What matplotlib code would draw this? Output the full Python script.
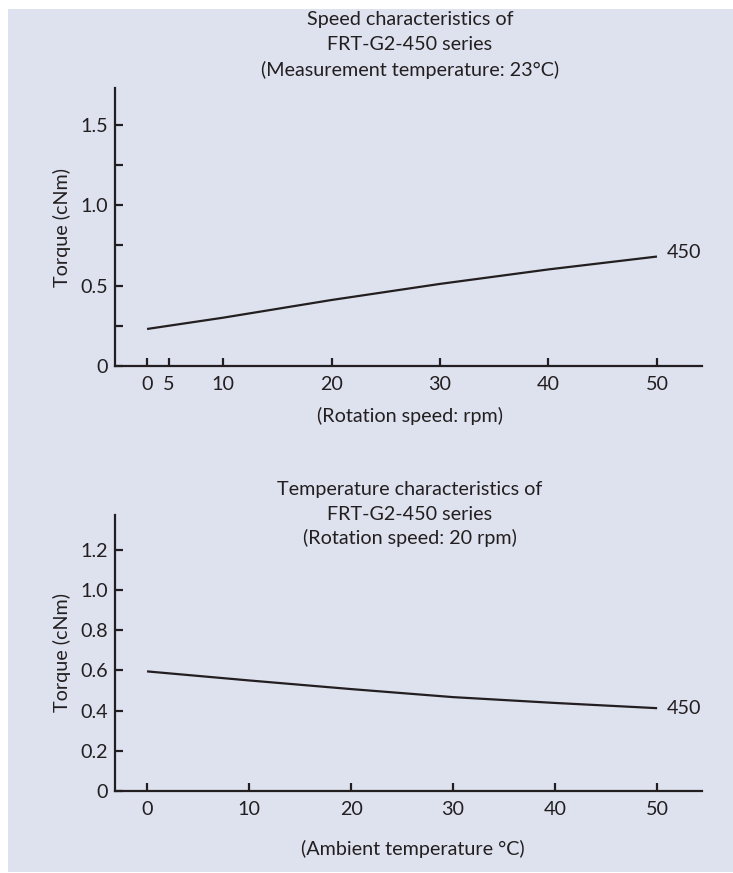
import matplotlib
matplotlib.use("Agg")
import matplotlib.pyplot as plt
from matplotlib.patches import Rectangle
import numpy as np

# speed characteristics (top)
speed_rpm = [0, 5, 10, 20, 30, 40, 50]
speed_torque = [0.23, 0.25, 0.30, 0.41, 0.51, 0.60, 0.68]
speed_xticks = [0, 5, 10, 20, 30, 40, 50]
speed_yticks = [0, 0.5, 1.0, 1.5]
speed_ylabels = ["0", "0.5", "1.0", "1.5"]
speed_yminor = [0.25, 0.75, 1.25]
speed_title = ["Speed characteristics of", "FRT-G2-450 series",
               "(Measurement temperature: 23°C)"]

# temperature characteristics (bottom)
temp_c = [0, 10, 20, 30, 40, 50]
temp_torque = [0.595, 0.55, 0.507, 0.467, 0.438, 0.412]
temp_xticks = [0, 10, 20, 30, 40, 50]
temp_yticks = [0, 0.2, 0.4, 0.6, 0.8, 1.0, 1.2]
temp_ylabels = ["0", "0.2", "0.4", "0.6", "0.8", "1.0", "1.2"]
temp_title = ["Temperature characteristics of", "FRT-G2-450 series",
              "(Rotation speed: 20 rpm)"]

series_name = "450"

plt.rcParams['font.family'] = ['Lato', 'DejaVu Sans']
ink = '#231f20'
bg = '#dee2ef'
fs = 14.2

W, H = 733, 873
fig = plt.figure(figsize=(W / 100, H / 100), dpi=100, facecolor='white')
fig.patches.append(Rectangle((8 / W, 1 / H), 1 - 8 / W, (872 - 9) / H,
                             transform=fig.transFigure, facecolor=bg,
                             edgecolor='none', zorder=-10))


def px_axes(left, top, right, bottom):
    return fig.add_axes([left / W, 1 - bottom / H, (right - left) / W, (bottom - top) / H])


def px_text(x, y, s):
    fig.text(x / W, 1 - y / H, s, ha='center', va='center', fontsize=fs, color=ink)


def style(ax):
    ax.set_facecolor('none')
    for s in ['top', 'right']:
        ax.spines[s].set_visible(False)
    for s in ['left', 'bottom']:
        ax.spines[s].set_linewidth(1.6)
        ax.spines[s].set_color(ink)
    ax.tick_params(which='both', direction='in', length=6, width=1.6, color=ink,
                   labelsize=fs, labelcolor=ink)
    ax.tick_params(axis='y', pad=5)
    ax.tick_params(axis='x', pad=7)


# top: compressed 0-5 segment
def fwd(x):
    x = np.asarray(x, dtype=float)
    return np.where(x < 5, 5 + (x - 5) * 0.4, x)


def inv(u):
    u = np.asarray(u, dtype=float)
    return np.where(u < 5, 5 + (u - 5) / 0.4, u)


ax1 = px_axes(115, 88, 702, 366)
ax1.set_xscale('function', functions=(fwd, inv))
ax1.plot(speed_rpm, speed_torque, color=ink, lw=1.6, solid_capstyle='butt')
ax1.set_xlim(-7.39, 54.15)
ax1.set_ylim(0, 1.727)
ax1.set_xticks(speed_xticks)
ax1.set_xticklabels([str(t) for t in speed_xticks])
ax1.set_yticks(speed_yticks)
ax1.set_yticklabels(speed_ylabels)
ax1.set_yticks(speed_yminor, minor=True)
ax1.xaxis.set_minor_locator(matplotlib.ticker.NullLocator())
style(ax1)
ax1.set_ylabel("Torque (cNm)", fontsize=fs, color=ink, labelpad=7)
ax1.set_xlabel("(Rotation speed: rpm)", fontsize=fs, color=ink)
ax1.xaxis.set_label_coords(0.503, -(407 - 366) / 278)
ax1.annotate(series_name, xy=(speed_rpm[-1], speed_torque[-1]), xytext=(7, 3),
             textcoords='offset points', va='center', ha='left', fontsize=fs, color=ink)
for yy, line in zip([20, 45, 70], speed_title):
    px_text(410, yy, line)

ax2 = px_axes(115, 515, 702, 791)
ax2.plot(temp_c, temp_torque, color=ink, lw=1.6, solid_capstyle='butt')
ax2.set_xlim(-3.14, 54.4)
ax2.set_ylim(0, 1.373)
ax2.set_xticks(temp_xticks)
ax2.set_xticklabels([str(t) for t in temp_xticks])
ax2.set_yticks(temp_yticks)
ax2.set_yticklabels(temp_ylabels)
style(ax2)
ax2.set_ylabel("Torque (cNm)", fontsize=fs, color=ink, labelpad=7)
ax2.set_xlabel("(Ambient temperature °C)", fontsize=fs, color=ink)
ax2.xaxis.set_label_coords(0.507, -(840 - 791) / 276)
ax2.annotate(series_name, xy=(temp_c[-1], temp_torque[-1]), xytext=(7, 0),
             textcoords='offset points', va='center', ha='left', fontsize=fs, color=ink)
for yy, line in zip([489, 514, 538], temp_title):
    px_text(410, yy, line)

fig.savefig("out.png", dpi=100, facecolor='white')
